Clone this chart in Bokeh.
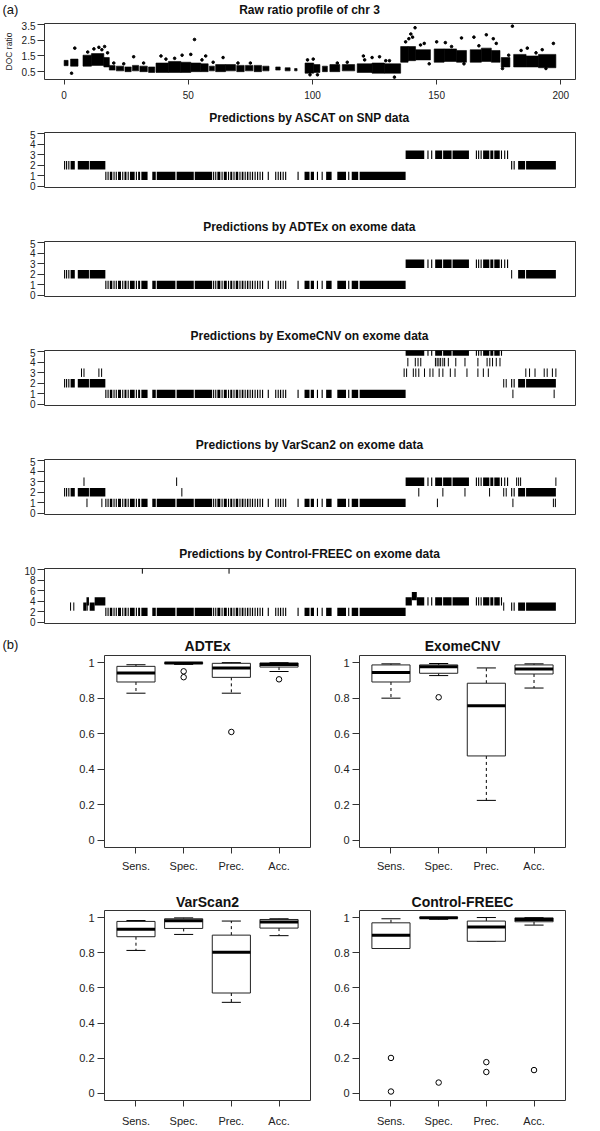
from bokeh.plotting import figure
from bokeh.models import Range1d, FixedTicker
from bokeh.core.properties import value
from bokeh.layouts import column, row
from bokeh.embed import file_html
from bokeh.resources import INLINE

FONT = "Liberation Sans"
INK = "#222222"
FRAME = "#333333"

# ---------------- (a) raw ratio profile (dense clouds as ranges, plus scattered points) -------------
raw_x0 = [0.0, 2.6, 7.6, 11.0, 16.0, 18.2, 21.0, 24.5, 27.5, 30.5, 34.0, 37.0, 42.0, 47.0, 51.0, 55.0,
          58.5, 61.0, 65.0, 69.5, 73.0, 76.5, 80.0, 85.2, 89.0, 92.8, 97.0, 100.5, 104.0, 107.0, 112.0,
          118.0, 124.0, 129.0, 135.5, 138.5, 141.5, 149.0, 153.0, 158.0, 163.5, 168.0, 172.0, 176.0,
          181.0, 186.0, 191.0]
raw_x1 = [1.6, 5.6, 11.0, 16.0, 18.2, 20.5, 24.0, 27.0, 30.0, 33.5, 36.5, 42.0, 47.0, 51.0, 55.0, 58.0,
          60.5, 65.0, 69.0, 72.5, 76.0, 79.5, 82.5, 87.0, 91.0, 93.8, 100.5, 103.0, 106.0, 111.0, 117.0,
          124.0, 129.0, 135.5, 138.5, 141.5, 147.5, 153.0, 158.0, 162.0, 168.0, 172.0, 175.5, 179.5,
          186.0, 191.0, 198.0]
raw_lo = [0.88, 0.85, 0.85, 0.90, 0.80, 0.60, 0.55, 0.50, 0.55, 0.50, 0.45, 0.45, 0.45, 0.45, 0.50, 0.50,
          0.55, 0.50, 0.55, 0.50, 0.55, 0.50, 0.55, 0.60, 0.55, 0.55, 0.40, 0.45, 0.50, 0.50, 0.55,
          0.45, 0.40, 0.40, 1.10, 1.20, 1.25, 1.10, 1.15, 1.10, 1.10, 1.15, 1.10, 0.80,
          0.80, 0.80, 0.75]
raw_hi = [1.22, 1.30, 1.55, 1.65, 1.40, 0.90, 0.85, 0.80, 0.90, 0.85, 0.80, 1.05, 1.15, 1.10, 1.05, 1.00,
          0.85, 0.95, 0.95, 0.90, 0.90, 0.90, 0.85, 0.80, 0.75, 0.70, 1.05, 0.95, 0.85, 0.95, 0.95,
          1.00, 1.05, 1.00, 2.10, 2.10, 1.90, 1.95, 1.95, 1.85, 1.90, 2.00, 1.85, 1.40,
          1.60, 1.50, 1.60]
raw_pt_x = [3.0, 4.3, 9.5, 12.0, 14.0, 15.2, 16.3, 17.5, 28.0, 39.0, 44.5, 47.5, 51.0, 52.5, 57.0,
            64.0, 99.0, 100.3, 102.0, 120.5, 124.0, 127.0, 133.0, 137.5, 138.8, 139.6, 140.3, 141.3,
            145.0, 150.0, 153.5, 160.0, 165.0, 170.0, 172.8, 174.0, 179.0, 180.5, 186.5, 190.0, 197.0,
            24.0, 32.0, 60.0, 75.0, 110.0, 114.0, 131.0, 147.0, 161.0, 176.5, 194.0,
            20.0, 41.0, 55.5, 70.0, 98.0, 121.0, 129.5, 143.5, 156.0, 167.0, 184.0, 192.5]
raw_pt_y = [0.40, 2.00, 1.75, 1.95, 2.05, 1.90, 2.10, 1.70, 1.45, 1.50, 1.35, 1.55, 1.60, 2.55, 1.50,
            1.40, 0.30, 1.30, 0.30, 1.50, 1.40, 1.45, 0.15, 2.40, 2.60, 2.90, 2.70, 3.30,
            2.30, 2.40, 2.35, 2.65, 2.70, 2.85, 2.60, 2.30, 1.55, 3.40, 2.00, 1.70, 2.30,
            1.00, 1.05, 1.10, 1.05, 1.05, 1.10, 1.20, 1.00, 1.00, 0.70, 0.70,
            1.05, 1.30, 1.25, 1.05, 1.25, 1.25, 1.20, 2.20, 2.10, 2.15, 1.85, 1.90]
x_ticks_a = [0, 50, 100, 150, 200]

# ---------------- exon clusters along chr 3 (Mb) ----------------
exon_start = [0.0, 0.8, 1.7, 2.6, 5.5, 10.3,
              16.6, 17.5, 18.4, 19.9, 20.8, 21.7, 23.4, 24.3, 25.6, 26.5, 28.9, 29.8, 31.1,
              35.5, 37.3, 45.3, 52.6,
              60.0, 60.9, 61.7, 63.4, 64.3, 66.0, 66.9, 68.2, 69.1, 70.6, 71.5, 72.7, 73.6, 74.7,
              75.6, 76.7, 77.7, 78.7, 79.7, 82.0,
              85.0, 86.0, 86.9, 88.0, 89.0, 94.0,
              96.8, 99.3, 101.8, 103.7, 105.5, 110.0, 114.4, 115.8, 119.0,
              137.5, 146.3, 147.8, 149.4, 152.6, 156.4, 165.8, 166.7, 167.7, 168.7, 171.6, 173.2,
              175.9, 177.2, 178.4, 180.0, 181.0, 182.8, 186.0]
exon_end = [0.4, 1.2, 2.1, 4.3, 10.0, 16.6,
            17.0, 17.9, 19.4, 20.3, 21.2, 22.9, 23.8, 25.1, 26.0, 28.4, 29.3, 30.6, 33.6,
            36.9, 44.8, 52.2, 59.6,
            60.4, 61.2, 62.9, 63.8, 65.5, 66.4, 67.7, 68.6, 70.1, 71.0, 72.2, 73.1, 74.2, 75.1,
            76.1, 77.1, 78.1, 79.1, 80.1, 82.4,
            85.4, 86.4, 87.4, 88.4, 89.4, 94.4,
            98.8, 100.6, 102.2, 104.1, 107.7, 113.5, 114.8, 118.4, 137.5,
            145.0, 146.7, 148.2, 152.2, 156.0, 163.0, 166.2, 167.1, 168.1, 171.2, 172.8, 175.4,
            176.3, 177.6, 178.7, 180.4, 181.4, 185.6, 198.0]

# ---------------- copy-number calls: (start, end, copy number) + isolated calls ----------------
ascat_calls = [(0, 16.6, 2), (16.6, 137.5, 1), (137.5, 179.5, 3), (179.5, 198, 2)]
ascat_single_x, ascat_single_cn = [], []

adtex_calls = [(0, 16.6, 2), (16.6, 137.5, 1), (137.5, 179.0, 3), (182.5, 198, 2)]
adtex_single_x, adtex_single_cn = [180.2], [2]

exomecnv_calls = [(0, 16.6, 2), (16.6, 137.5, 1), (137.5, 176.8, 5), (179.5, 198, 2)]
exomecnv_single_x = [7.0, 8.0, 14.0, 15.1,
                     138.4, 141.4, 142.5, 143.6, 149.5, 150.2, 150.9, 151.6, 152.5, 153.2, 154.7,
                     157.7, 161.4, 166.6, 170.3, 171.4, 172.5, 174.0, 175.5,
                     136.9, 137.9, 140.6, 141.6, 142.8, 145.1, 147.3, 148.5, 151.0, 152.5, 155.5,
                     157.4, 162.2, 166.6, 168.8, 170.8, 185.9, 187.4, 189.6, 193.3, 194.5, 196.6, 198.0,
                     177.0, 178.0, 180.7, 197.3]
exomecnv_single_cn = [3, 3, 3, 3,
                      4, 4, 4, 4, 4, 4, 4, 4, 4, 4, 4,
                      4, 4, 4, 4, 4, 4, 4, 4,
                      3, 3, 3, 3, 3, 3, 3, 3, 3, 3, 3,
                      3, 3, 3, 3, 3, 3, 3, 3, 3, 3, 3, 3,
                      2, 2, 1, 1]

varscan_calls = [(0, 16.6, 2), (16.6, 137.5, 1), (137.5, 178.8, 3), (179.5, 198, 2)]
varscan_single_x = [8.0, 45.3, 182.2, 183.0, 183.8, 198.0,
                    47.4, 142.8, 152.5, 161.4, 171.3, 177.0, 178.0,
                    9.2, 15.2, 150.3, 180.7, 197.0, 197.8]
varscan_single_cn = [3, 3, 3, 3, 3, 3,
                     2, 2, 2, 2, 2, 2, 2,
                     1, 1, 1, 1, 1, 1]

freec_calls = [(7.7, 9.0, 3), (9.0, 10.2, 4), (10.2, 12.3, 3), (12.3, 16.6, 4), (16.6, 137.5, 2),
               (137.5, 140.0, 4), (140.0, 142.0, 5), (142.0, 176.8, 4), (179.5, 198, 3)]
freec_single_x = [2.6, 3.9, 9.3, 177.0, 31.5, 66.4]
freec_single_cn = [3, 3, 3, 3, 10, 10]

# ---------------- (b) boxplot statistics ----------------
metrics = ["Sens.", "Spec.", "Prec.", "Acc."]

adtex_lo = [0.828, 0.990, 0.828, 0.950]
adtex_q1 = [0.891, 0.995, 0.917, 0.975]
adtex_med = [0.941, 0.998, 0.970, 0.990]
adtex_q3 = [0.979, 1.000, 0.996, 0.998]
adtex_hi = [0.988, 1.000, 1.000, 1.000]
adtex_out_m = [2, 2, 3, 4]
adtex_out_v = [0.951, 0.918, 0.610, 0.906]

exome_lo = [0.800, 0.927, 0.225, 0.857]
exome_q1 = [0.891, 0.940, 0.475, 0.936]
exome_med = [0.944, 0.977, 0.758, 0.964]
exome_q3 = [0.987, 0.987, 0.884, 0.987]
exome_hi = [0.993, 0.995, 0.970, 0.993]
exome_out_m = [2]
exome_out_v = [0.805]

vars_lo = [0.813, 0.904, 0.518, 0.897]
vars_q1 = [0.891, 0.938, 0.571, 0.940]
vars_med = [0.934, 0.982, 0.803, 0.975]
vars_q3 = [0.978, 0.993, 0.900, 0.989]
vars_hi = [0.983, 0.998, 0.980, 0.993]
vars_out_m = []
vars_out_v = []

freec_lo = [0.824, 0.990, 0.865, 0.957]
freec_q1 = [0.824, 0.997, 0.865, 0.976]
freec_med = [0.899, 0.999, 0.946, 0.989]
freec_q3 = [0.970, 1.000, 0.980, 0.998]
freec_hi = [0.993, 1.000, 1.000, 1.000]
freec_out_m = [1, 1, 2, 3, 3, 4]
freec_out_v = [0.202, 0.011, 0.062, 0.178, 0.122, 0.133]

y_ticks_b = [0, 0.2, 0.4, 0.6, 0.8, 1]

# =====================================================================
W = 600
XR_A = (-7.9, 205.9)


def base(width, height, xr, yr, bl, br, bt, bb):
    p = figure(width=width, height=height, x_range=Range1d(*xr), y_range=Range1d(*yr),
               output_backend="svg", toolbar_location=None,
               min_border_left=bl, min_border_right=br, min_border_top=bt, min_border_bottom=bb)
    p.xgrid.visible = False
    p.ygrid.visible = False
    p.outline_line_color = FRAME
    p.outline_line_width = 1
    p.background_fill_color = "white"
    p.border_fill_color = "white"
    for ax in p.axis:
        ax.axis_line_color = None
        ax.major_tick_in = 0
        ax.minor_tick_line_color = None
        ax.major_tick_line_color = FRAME
        ax.major_label_text_font = FONT
        ax.major_label_text_color = INK
    return p


def strip(height, xs, ys, texts, size, style, align):
    """A text-only band (titles / panel letters) above a panel."""
    p = figure(width=W, height=height, x_range=Range1d(0, W), y_range=Range1d(0, height),
               output_backend="svg", toolbar_location=None, x_axis_type=None, y_axis_type=None,
               min_border=0, min_border_left=0, min_border_right=0, min_border_top=0,
               min_border_bottom=0)
    if hasattr(p, "frame_align"):
        p.frame_align = False
    p.outline_line_color = None
    p.xgrid.visible = False
    p.ygrid.visible = False
    for x, y, t, s, st, al in zip(xs, ys, texts, size, style, align):
        p.text(x=[x], y=[y], text=[t], text_font=value(FONT), text_font_size=value(s),
               text_font_style=st, text_align=al, text_baseline="middle", text_color="#111111")
    return p


def yaxis_setup(p, ticks, labels, size, tick_out, standoff):
    p.yaxis.ticker = FixedTicker(ticks=ticks)
    p.yaxis.major_label_overrides = {t: l for t, l in zip(ticks, labels)}
    p.yaxis.major_label_text_font_size = size
    p.yaxis.major_tick_out = tick_out
    p.yaxis.major_label_standoff = standoff


# ---------- panel 1 : raw ratio ----------
s1 = strip(21, [2, 309], [12, 12], ["(a)", "Raw ratio profile of chr 3"], ["13px", "12px"],
           ["normal", "bold"], ["left", "center"])
YR1 = (0.0, 3.57)
p1 = base(W, 91, XR_A, YR1, 43, 25, 2, 33)
p1.xaxis.ticker = FixedTicker(ticks=x_ticks_a)
p1.xaxis.major_label_text_font_size = "10px"
p1.xaxis.major_tick_out = 5
p1.xaxis.major_label_standoff = 6
yaxis_setup(p1, [0.5, 1.5, 2.5, 3.5], ["0.5", "1.5", "2.5", "3.5"], "10px", 7, 2)
p1.yaxis.axis_label = "DOC ratio"
p1.yaxis.axis_label_text_font = FONT
p1.yaxis.axis_label_text_font_size = "8.5px"
p1.yaxis.axis_label_text_font_style = "normal"
p1.yaxis.axis_label_text_color = INK
p1.yaxis.axis_label_standoff = 5
p1.quad(left=raw_x0, right=raw_x1, bottom=raw_lo, top=raw_hi, fill_color="black",
        line_color="black", line_width=0.6)
p1.scatter(raw_pt_x, raw_pt_y, size=2.6, color="black")


def call_blocks(calls):
    left, right, lev = [], [], []
    for (s, e, cn) in calls:
        for a, b in zip(exon_start, exon_end):
            lo, hi = max(s, a), min(e, b)
            if hi - lo > 0.05:
                if hi - lo < 0.45:
                    c = (lo + hi) / 2
                    lo, hi = c - 0.225, c + 0.225
                left.append(lo)
                right.append(hi)
                lev.append(cn)
    return left, right, lev


def pred_panel(calls, sx, scn, yr, ticks, height, bb, half):
    p = base(W, height, XR_A, yr, 43, 25, 2, bb)
    p.xaxis.visible = False
    yaxis_setup(p, ticks, [str(t) for t in ticks], "10px", 7, 2)
    l, r, lev = call_blocks(calls)
    p.quad(left=l, right=r, bottom=[v - half for v in lev], top=[v + half for v in lev],
           fill_color="black", line_color=None)
    if sx:
        p.segment(x0=sx, x1=sx, y0=[v - half for v in scn], y1=[v + half for v in scn],
                  line_color="black", line_width=1)
    return p


def title_strip(text):
    return strip(18, [309], [13], [text], ["12px"], ["bold"], ["center"])


YR5 = (-0.1, 5.1)
T5 = [0, 1, 2, 3, 4, 5]
s2 = title_strip("Predictions by ASCAT on SNP data")
p2 = pred_panel(ascat_calls, ascat_single_x, ascat_single_cn, YR5, T5, 91, 34, 0.4)
s3 = title_strip("Predictions by ADTEx on exome data")
p3 = pred_panel(adtex_calls, adtex_single_x, adtex_single_cn, YR5, T5, 91, 34, 0.4)
s4 = title_strip("Predictions by ExomeCNV on exome data")
p4 = pred_panel(exomecnv_calls, exomecnv_single_x, exomecnv_single_cn, YR5, T5, 91, 34, 0.4)
s5 = title_strip("Predictions by VarScan2 on exome data")
p5 = pred_panel(varscan_calls, varscan_single_x, varscan_single_cn, YR5, T5, 91, 34, 0.4)
s6 = title_strip("Predictions by Control-FREEC on exome data")
p6 = pred_panel(freec_calls, freec_single_x, freec_single_cn, (-0.2, 10.2), [0, 2, 4, 6, 8, 10],
                67, 10, 0.78)

# ---------- (b) boxplots ----------
XR_B = (0.34, 4.66)
YR_B = (-0.04, 1.04)


def box_panel(lo, q1, med, q3, hi, om, ov, width, height, bl, br, bb, standoff):
    p = base(width, height, XR_B, YR_B, bl, br, 2, bb)
    p.xaxis.ticker = FixedTicker(ticks=[1, 2, 3, 4])
    p.xaxis.major_label_overrides = {i + 1: m for i, m in enumerate(metrics)}
    p.xaxis.major_label_text_font_size = "11px"
    p.xaxis.major_tick_out = 6
    p.xaxis.major_label_standoff = standoff
    yaxis_setup(p, y_ticks_b, ["0", "0.2", "0.4", "0.6", "0.8", "1"], "11px", 7, 3)
    xs = [1, 2, 3, 4]
    p.segment(x0=xs, x1=xs, y0=q3, y1=hi, line_color="black", line_width=1, line_dash="3 3")
    p.segment(x0=xs, x1=xs, y0=q1, y1=lo, line_color="black", line_width=1, line_dash="3 3")
    p.segment(x0=[x - 0.2 for x in xs], x1=[x + 0.2 for x in xs], y0=hi, y1=hi,
              line_color="black", line_width=1)
    p.segment(x0=[x - 0.2 for x in xs], x1=[x + 0.2 for x in xs], y0=lo, y1=lo,
              line_color="black", line_width=1)
    p.quad(left=[x - 0.4 for x in xs], right=[x + 0.4 for x in xs], bottom=q1, top=q3,
           fill_color="white", line_color="#222222", line_width=1)
    p.segment(x0=[x - 0.4 for x in xs], x1=[x + 0.4 for x in xs], y0=med, y1=med,
              line_color="black", line_width=3)
    if om:
        p.scatter(om, ov, size=5.5, marker="circle", fill_color=None, line_color="black",
                  line_width=1)
    return p


sb1 = strip(20, [2, 207, 462], [9, 8, 8], ["(b)", "ADTEx", "ExomeCNV"], ["13px", "14px", "14px"],
            ["normal", "bold", "bold"], ["left", "center", "center"])
b1 = box_panel(adtex_lo, adtex_q1, adtex_med, adtex_q3, adtex_hi, adtex_out_m, adtex_out_v,
               330, 227, 104, 20, 33, 6)
b2 = box_panel(exome_lo, exome_q1, exome_med, exome_q3, exome_hi, exome_out_m, exome_out_v,
               270, 227, 29, 35, 33, 6)
sb2 = strip(28, [207, 462], [7, 7], ["VarScan2", "Control-FREEC"], ["14px", "14px"],
            ["bold", "bold"], ["center", "center"])
b3 = box_panel(vars_lo, vars_q1, vars_med, vars_q3, vars_hi, vars_out_m, vars_out_v,
               330, 221, 104, 20, 27, 8)
b4 = box_panel(freec_lo, freec_q1, freec_med, freec_q3, freec_hi, freec_out_m, freec_out_v,
               270, 221, 29, 35, 27, 8)

layout = column(s1, p1, s2, p2, s3, p3, s4, p4, s5, p5, s6, p6,
                sb1, row(b1, b2, spacing=0), sb2, row(b3, b4, spacing=0), spacing=0)

open("out.html", "w").write(file_html(layout, INLINE))
